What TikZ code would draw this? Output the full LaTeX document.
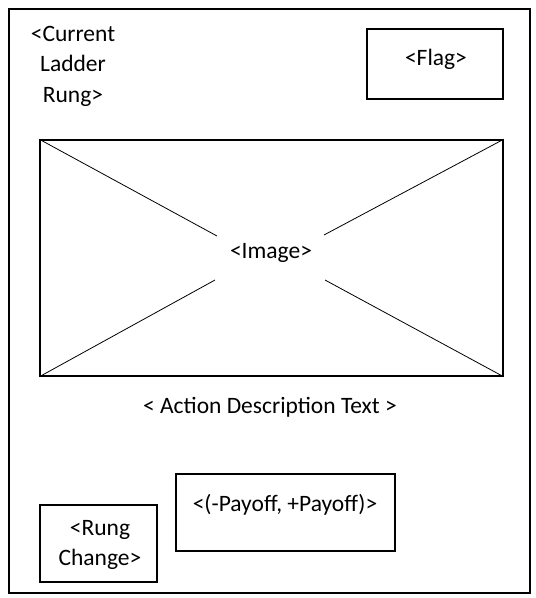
\documentclass[tikz,border=0pt]{standalone}
\usepackage{fontspec}
\setmainfont{Carlito}

\begin{document}
\begin{tikzpicture}[x=1pt, y=-1pt, font=\fontsize{23.5}{30.5}\selectfont,
        box/.style={draw, line width=2pt, inner sep=0pt}]
        \useasboundingbox (0,0) rectangle (536,598);

        \node[box, minimum width=521pt, minimum height=584pt] (frame) at (269.5,301) {};

        \node[align=center] (rung) at (73,66) {<Current\\Ladder\\Rung>};

        \node[box, minimum width=136pt, minimum height=70pt] (flagbox) at (435,64) {};
        \node (flag) at (436,59.5) {<Flag>};

        \node[draw, line width=1.6pt, inner sep=0pt, minimum width=463pt, minimum height=236pt] (img) at (271.5,258) {};
        \node (image) at (271,252.5) {<Image>};

        \coordinate (ul) at (217,236);
        \coordinate (ur) at (324,235);
        \coordinate (ll) at (215,280);
        \coordinate (lr) at (325,280);

        \draw[line width=0.8pt] (img.north west) -- (ul);
        \draw[line width=0.8pt] (img.north east) -- (ur);
        \draw[line width=0.8pt] (img.south west) -- (ll);
        \draw[line width=0.8pt] (img.south east) -- (lr);

        \node (action) at (270,407.5) {< Action Description Text >};

        \node[box, minimum width=219pt, minimum height=77pt] (payoffbox) at (285.5,512.5) {};
        \node (payoff) at (285,505) {<(-Payoff, +Payoff)>};

        \node[box, minimum width=117pt, minimum height=77pt] (changebox) at (98.5,543.5) {};
        \node[align=center] (change) at (100,545) {<Rung\\Change>};
    \end{tikzpicture}
\end{document}
